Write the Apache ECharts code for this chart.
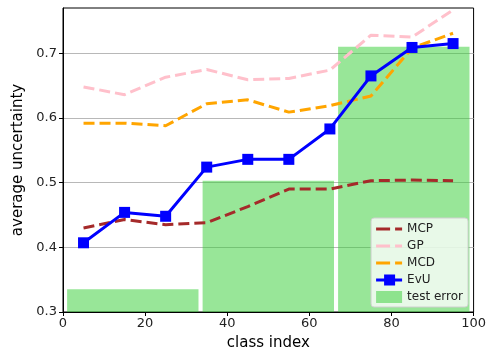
<!DOCTYPE html>
<html><head><meta charset="utf-8">
<script src="https://cdn.jsdelivr.net/npm/echarts@6/dist/echarts.min.js"></script>
<style>html,body{margin:0;padding:0;background:#fff}#c{width:489px;height:356px}</style>
</head><body><div id="c"></div>
<script>
var classIdx = [5, 15, 25, 35, 45, 55, 65, 75, 85, 95];
var mcp = [0.430, 0.443, 0.435, 0.438, 0.463, 0.490, 0.490, 0.503, 0.504, 0.503];
var gp  = [0.648, 0.636, 0.663, 0.675, 0.659, 0.661, 0.674, 0.728, 0.725, 0.767];
var mcd = [0.592, 0.592, 0.588, 0.622, 0.628, 0.609, 0.619, 0.634, 0.708, 0.731];
var evu = [0.407, 0.454, 0.448, 0.524, 0.536, 0.536, 0.583, 0.665, 0.709, 0.715];
var binCenters = [17, 50, 83];
var binWidth = 32;
var testError = [0.335, 0.503, 0.710];
var xTicks = [0, 20, 40, 60, 80, 100];
var yTicks = [0.3, 0.4, 0.5, 0.6, 0.7];

function pairs(ys){ return classIdx.map(function(x,i){return [x, ys[i]];}); }
var font = 'DejaVu Sans';
var chart = echarts.init(document.getElementById('c'));
var dash = [11, 5];
var dashIcon = 'path://M0,0H14V3H0Z M19,0H26V3H19Z';
var markIcon = 'path://M0,4H26V7H0Z M8,0H19V11H8Z';
chart.setOption({
  animation: false,
  textStyle: {fontFamily: font},
  grid: {left: 63, right: 14, top: 8, bottom: 42, show: true, borderColor: '#000', borderWidth: 1, backgroundColor: 'transparent'},
  xAxis: {
    type: 'value', min: 0, max: 100, interval: 20,
    name: 'class index', nameLocation: 'middle', nameGap: 24,
    nameTextStyle: {fontSize: 15, color: '#000', fontFamily: font},
    axisLine: {show: true, onZero: false, lineStyle: {color: '#000', width: 1}},
    axisTick: {show: true, length: 4, lineStyle: {color: '#000'}},
    axisLabel: {fontSize: 13, color: '#222', margin: 5, fontFamily: font,
      formatter: function(v){ return xTicks.indexOf(v) >= 0 ? String(v) : ''; }},
    splitLine: {show: false}
  },
  yAxis: {
    type: 'value', min: 0.3, max: 0.77, interval: 0.1,
    name: 'average uncertainty', nameLocation: 'middle', nameGap: 37,
    nameTextStyle: {fontSize: 15, color: '#000', fontFamily: font},
    axisLine: {show: true, onZero: false, lineStyle: {color: '#000', width: 1}},
    axisTick: {show: true, length: 4, lineStyle: {color: '#000'}, customValues: yTicks},
    axisLabel: {fontSize: 13, color: '#222', margin: 6, fontFamily: font, customValues: yTicks,
      formatter: function(v){ return Number(v).toFixed(1); }},
    splitLine: {show: true, lineStyle: {color: '#b8b8b8', width: 1.2}}
  },
  legend: {
    orient: 'vertical', right: 21, bottom: 49,
    backgroundColor: 'rgba(255,255,255,0.78)', borderColor: '#d0d0d0', borderWidth: 1, borderRadius: 3,
    padding: [5, 5, 4, 5], itemGap: 5, itemWidth: 26, itemHeight: 12,
    textStyle: {fontSize: 12, color: '#222', fontFamily: font},
    data: [
      {name: 'MCP', icon: dashIcon, itemStyle: {color: '#a52a2a'}},
      {name: 'GP', icon: dashIcon, itemStyle: {color: '#ffc0cb'}},
      {name: 'MCD', icon: dashIcon, itemStyle: {color: '#ffa500'}},
      {name: 'EvU', icon: markIcon, itemStyle: {color: '#0000ff'}},
      {name: 'test error', icon: 'rect', itemStyle: {color: 'rgba(50,205,50,0.5)'}}
    ]
  },
  series: [
    {
      name: 'test error', type: 'custom', z: 1,
      itemStyle: {color: 'rgba(50,205,50,0.5)'},
      renderItem: function(params, api){
        var c = api.value(0), h = api.value(1);
        var p1 = api.coord([c - binWidth/2, h]);
        var p2 = api.coord([c + binWidth/2, 0.3]);
        return {type: 'rect', shape: {x: p1[0], y: p1[1], width: p2[0]-p1[0], height: p2[1]-p1[1]},
          style: {fill: 'rgba(50,205,50,0.5)'}};
      },
      encode: {x: 0, y: 1},
      data: binCenters.map(function(c,i){return [c, testError[i]];})
    },
    {name: 'MCP', type: 'line', z: 3, data: pairs(mcp), showSymbol: false, symbol: 'none',
      color: '#a52a2a', lineStyle: {color: '#a52a2a', width: 3, type: dash}},
    {name: 'GP', type: 'line', z: 3, data: pairs(gp), showSymbol: false, symbol: 'none',
      color: '#ffc0cb', lineStyle: {color: '#ffc0cb', width: 3, type: dash}},
    {name: 'MCD', type: 'line', z: 3, data: pairs(mcd), showSymbol: false, symbol: 'none',
      color: '#ffa500', lineStyle: {color: '#ffa500', width: 3, type: dash}},
    {name: 'EvU', type: 'line', z: 4, data: pairs(evu), symbol: 'rect', symbolSize: 11,
      color: '#0000ff', itemStyle: {color: '#0000ff'}, lineStyle: {color: '#0000ff', width: 3}}
  ]
});
</script></body></html>
